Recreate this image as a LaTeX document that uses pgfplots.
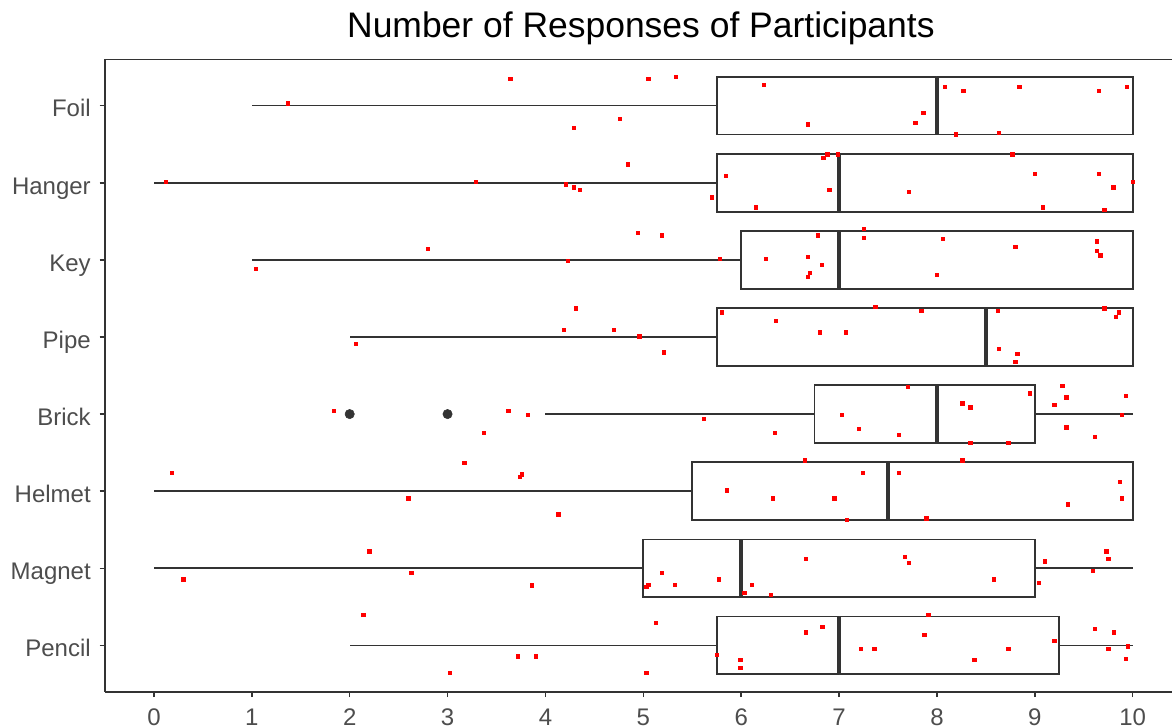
\documentclass[border=0pt]{standalone}
\usepackage{pgfplots}
\pgfplotsset{compat=1.18}
\usepgfplotslibrary{statistics}
\usepackage{fontspec}
\setmainfont{Liberation Sans}
\definecolor{tickgray}{HTML}{4D4D4D}
\definecolor{linegray}{HTML}{333333}
\begin{document}
\begin{tikzpicture}
\begin{axis}[
  name=ax,
  scale only axis, width=800.25pt, height=474.3pt,
  xmin=-0.5, xmax=10.4017, ymin=0.4, ymax=8.6,
  axis lines*=left,
  axis line style={linegray, line width=1.2pt},
  xtick={0,...,10}, ytick={1,...,8},
  yticklabels={Pencil,Magnet,Helmet,Brick,Pipe,Key,Hanger,Foil},
  tick align=outside, major tick length=4.1pt,
  tick style={linegray, line width=1.2pt},
  /pgf/number format/assume math mode=true,
  ticklabel style={font=\fontsize{18}{18}\selectfont, text=tickgray},
  xticklabel style={anchor=base, inner sep=0pt, yshift=-20.9pt},
  yticklabel style={anchor=base east, inner sep=0pt, xshift=-6.4pt, yshift=-8.5pt},
  clip=false,
  boxplot/whisker extend=0,
  boxplot/box extend=0.75,
  boxplot/every box/.style={line width=1.3pt},
  boxplot/every whisker/.style={line width=1.3pt},
  boxplot/every median/.style={line width=2.6pt},
]
\draw[linegray, line width=1.2pt] (rel axis cs:0,1) -- (rel axis cs:1,1);
\addplot[linegray, line width=1.3pt, fill=white, boxplot prepared={draw position=8, lower whisker=1, lower quartile=5.75, median=8, upper quartile=10, upper whisker=10}] coordinates {};
\addplot[linegray, line width=1.3pt, fill=white, boxplot prepared={draw position=7, lower whisker=0, lower quartile=5.75, median=7, upper quartile=10, upper whisker=10}] coordinates {};
\addplot[linegray, line width=1.3pt, fill=white, boxplot prepared={draw position=6, lower whisker=1, lower quartile=6, median=7, upper quartile=10, upper whisker=10}] coordinates {};
\addplot[linegray, line width=1.3pt, fill=white, boxplot prepared={draw position=5, lower whisker=2, lower quartile=5.75, median=8.5, upper quartile=10, upper whisker=10}] coordinates {};
\addplot[linegray, line width=1.3pt, fill=white, boxplot prepared={draw position=4, lower whisker=4, lower quartile=6.75, median=8, upper quartile=9, upper whisker=10}] coordinates {};
\addplot[linegray, line width=1.3pt, fill=white, boxplot prepared={draw position=3, lower whisker=0, lower quartile=5.5, median=7.5, upper quartile=10, upper whisker=10}] coordinates {};
\addplot[linegray, line width=1.3pt, fill=white, boxplot prepared={draw position=2, lower whisker=0, lower quartile=5, median=6, upper quartile=9, upper whisker=10}] coordinates {};
\addplot[linegray, line width=1.3pt, fill=white, boxplot prepared={draw position=1, lower whisker=2, lower quartile=5.75, median=7, upper quartile=9.25, upper whisker=10}] coordinates {};
% outliers (Brick)
\addplot[only marks, mark=*, mark size=3.5pt, color=linegray] coordinates {(2,4) (3,4)};
% jittered responses
\addplot[only marks, mark=square*, mark size=1.25pt, color=red] coordinates {
(3.64,8.35) (1.37,8.03) (4.76,7.83) (4.29,7.71) (5.05,8.35) (5.33,8.37) (6.23,8.27) (6.68,7.76) (7.86,7.91) (7.78,7.78) (8.08,8.24) (8.27,8.19) (8.84,8.24) (9.65,8.19) (9.94,8.24) (8.19,7.63) (8.63,7.65)
};
\addplot[only marks, mark=square*, mark size=1.25pt, color=red] coordinates {
(4.84,7.24) (0.12,7.01) (3.29,7.01) (4.21,6.98) (4.29,6.94) (4.35,6.91) (6.88,7.37) (6.84,7.32) (6.99,7.37) (5.84,7.09) (5.70,6.81) (6.90,6.91) (6.15,6.68) (7.71,6.88) (8.77,7.37) (9.00,7.12) (9.65,7.12) (9.80,6.94) (10.00,7.01) (9.08,6.68) (9.71,6.65)
};
\addplot[only marks, mark=square*, mark size=1.25pt, color=red] coordinates {
(4.94,6.35) (2.80,6.14) (1.04,5.88) (4.23,5.99) (5.19,6.32) (5.78,6.01) (6.25,6.01) (6.78,6.32) (6.68,6.04) (6.82,5.94) (6.70,5.83) (6.68,5.78) (7.25,6.40) (7.25,6.29) (8.06,6.27) (8.00,5.81) (8.80,6.17) (9.63,6.24) (9.63,6.12) (9.67,6.06)
};
\addplot[only marks, mark=square*, mark size=1.25pt, color=red] coordinates {
(4.31,5.37) (4.19,5.09) (4.70,5.09) (4.96,5.01) (2.06,4.91) (5.21,4.80) (5.80,5.32) (6.35,5.21) (6.80,5.06) (7.07,5.06) (7.37,5.39) (7.84,5.34) (8.62,5.34) (8.63,4.85) (8.82,4.78) (8.80,4.68) (9.71,5.37) (9.86,5.32) (9.83,5.26)
};
\addplot[only marks, mark=square*, mark size=1.25pt, color=red] coordinates {
(1.84,4.04) (3.62,4.04) (3.82,3.99) (3.37,3.76) (7.70,4.35) (5.62,3.94) (6.34,3.76) (7.03,3.99) (7.20,3.81) (7.61,3.73) (8.26,4.14) (8.34,4.09) (8.34,3.63) (8.73,3.63) (8.95,4.27) (9.28,4.37) (9.32,4.22) (9.20,4.12) (9.93,4.24) (9.89,3.99) (9.32,3.83) (9.61,3.71)
};
\addplot[only marks, mark=square*, mark size=1.25pt, color=red] coordinates {
(3.17,3.37) (0.18,3.24) (3.74,3.19) (3.76,3.22) (2.60,2.91) (4.13,2.70) (6.65,3.40) (8.26,3.40) (7.24,3.24) (7.61,3.24) (5.85,3.01) (6.32,2.91) (6.95,2.91) (7.08,2.63) (7.89,2.65) (9.87,3.12) (9.89,2.91) (9.34,2.83)
};
\addplot[only marks, mark=square*, mark size=1.25pt, color=red] coordinates {
(2.20,2.22) (0.30,1.86) (2.63,1.94) (3.86,1.78) (6.66,2.12) (7.67,2.15) (7.71,2.07) (5.19,1.94) (5.03,1.76) (5.05,1.79) (5.32,1.79) (5.77,1.86) (6.03,1.68) (6.11,1.79) (6.30,1.66) (8.58,1.86) (9.10,2.09) (9.04,1.81) (9.73,2.22) (9.75,2.12) (9.59,1.97)
};
\addplot[only marks, mark=square*, mark size=1.25pt, color=red] coordinates {
(2.14,1.40) (3.72,0.86) (3.90,0.86) (3.02,0.65) (5.13,1.29) (5.03,0.65) (5.75,0.88) (5.99,0.81) (5.99,0.71) (6.66,1.17) (6.83,1.24) (7.22,0.96) (7.36,0.96) (7.91,1.40) (7.87,1.14) (8.38,0.81) (8.73,0.96) (9.20,1.06) (9.61,1.22) (9.81,1.17) (9.75,0.96) (9.95,0.99) (9.93,0.83)
};
\end{axis}
\node[anchor=base, font=\fontsize{26.6}{30}\selectfont] at ([xshift=401.9pt, yshift=16.2pt]ax.north west) {Number of Responses of Participants};
\pgfresetboundingbox
\path[use as bounding box] ([xshift=-78.75pt, yshift=-27.2pt]ax.south west) rectangle ([yshift=44.5pt]ax.north east);
\end{tikzpicture}
\end{document}
